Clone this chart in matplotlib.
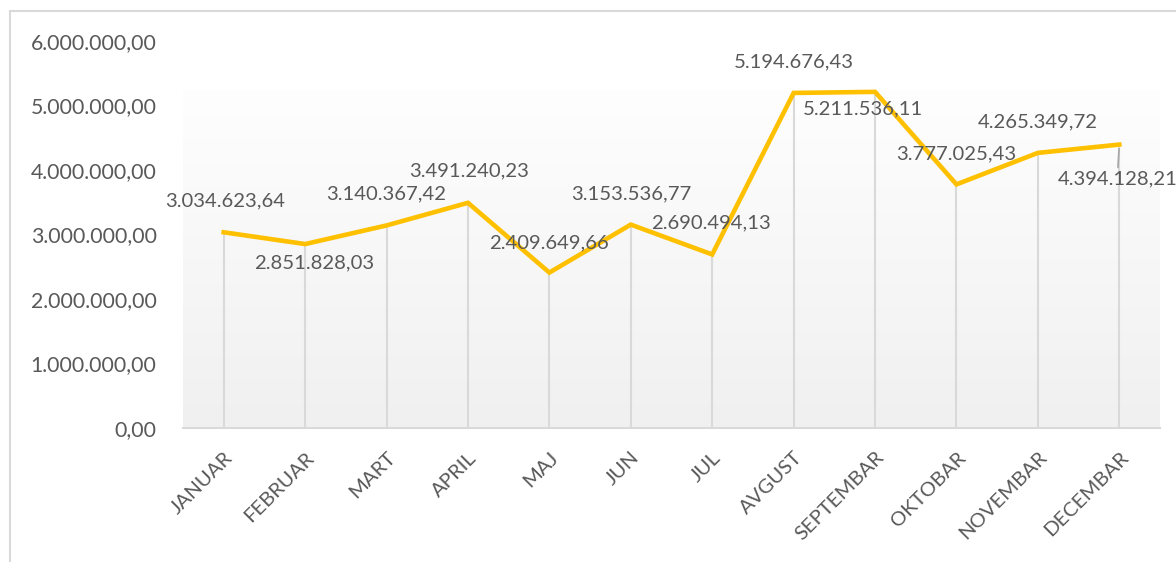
import numpy as np
import matplotlib.pyplot as plt
from matplotlib.patches import Rectangle
from matplotlib.colors import LinearSegmentedColormap
from matplotlib.ticker import FuncFormatter

months = ["JANUAR", "FEBRUAR", "MART", "APRIL", "MAJ", "JUN", "JUL",
          "AVGUST", "SEPTEMBAR", "OKTOBAR", "NOVEMBAR", "DECEMBAR"]
values = [3034623.64, 2851828.03, 3140367.42, 3491240.23, 2409649.66, 3153536.77,
          2690494.13, 5194676.43, 5211536.11, 3777025.43, 4265349.72, 4394128.21]
y_ticks = [0, 1000000, 2000000, 3000000, 4000000, 5000000, 6000000]

# label offsets in pixels (dx, dy), like the excel data labels
label_offsets = [(1, 31), (9, -19), (0, 32), (1, 32), (0, 30), (0, 31),
                 (-1, 32), (0, 31), (-12, -17), (0, 31), (0, 31), (-2, -34)]

TXT = '#595959'
plt.rcParams['font.family'] = ['Lato', 'DejaVu Sans']


def fmt(v, pos=None):
    s = f"{v:,.2f}"
    return s.replace(",", " ").replace(".", ",").replace(" ", ".")


fig = plt.figure(figsize=(11.76, 5.62), dpi=100)
ax = fig.add_axes([183 / 1176, 1 - 428 / 562, 977 / 1176, 387 / 562])

# outer chart frame (cut off at the right and bottom)
fig.patches.append(Rectangle((10 / 1176, -0.1), 1.2, 0.1 + 551 / 562,
                             transform=fig.transFigure, fill=False,
                             edgecolor='#d9d9d9', linewidth=1.5))

x = np.arange(len(months))
ax.set_xlim(-0.5, len(months) - 0.5)
ax.set_ylim(0, 6000000)

# plot area gradient
grad = np.linspace(0, 1, 256).reshape(-1, 1)
top_frac = (428 - 90) / 387
ax.imshow(grad, extent=(0, 1, 0, top_frac), transform=ax.transAxes,
          cmap=LinearSegmentedColormap.from_list('g', ['#f0f0f0', '#fefefe']),
          aspect='auto', zorder=0, origin='lower')

ax.vlines(x, 0, values, color='#d9d9d9', linewidth=1.5, zorder=1)
ax.plot(x, values, color='#FFC000', linewidth=3.3, zorder=3,
        solid_joinstyle='miter')

for i, (v, (dx, dy)) in enumerate(zip(values, label_offsets)):
    kw = {}
    if i == len(values) - 1:
        kw['arrowprops'] = dict(arrowstyle='-', color='#a6a6a6', lw=1.2,
                                shrinkA=0, shrinkB=3)
    ax.annotate(fmt(v), (i, v), xytext=(dx * 0.72, dy * 0.72),
                textcoords='offset points', ha='center', va='center',
                fontsize=14.6, color=TXT, zorder=4, **kw)

ax.set_yticks(y_ticks)
ax.yaxis.set_major_formatter(FuncFormatter(fmt))
ax.set_xticks(x)
ax.set_xticklabels(months, rotation=45, ha='right', rotation_mode='anchor',
                   fontsize=14.6, color=TXT)
ax.tick_params(axis='y', length=0, pad=19, labelsize=15.3, labelcolor=TXT)
ax.tick_params(axis='x', length=0, pad=15)

for s in ['top', 'right', 'left']:
    ax.spines[s].set_visible(False)
ax.spines['bottom'].set_color('#d9d9d9')
ax.spines['bottom'].set_linewidth(1.5)
ax.patch.set_alpha(0)

fig.savefig('out.png', dpi=100)
